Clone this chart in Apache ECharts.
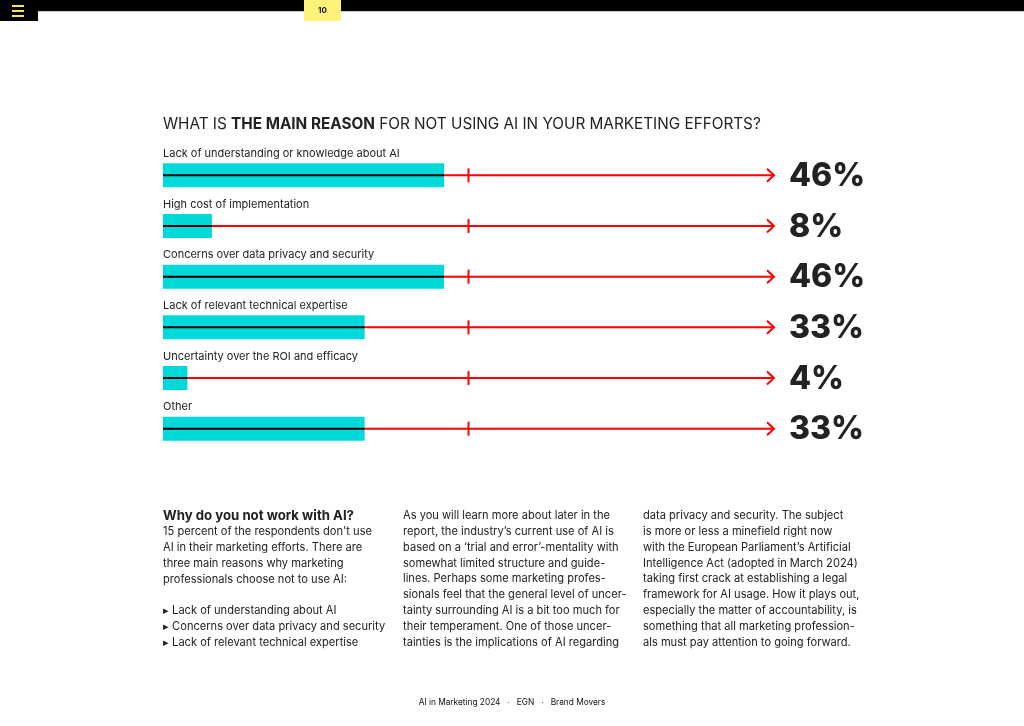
<!DOCTYPE html>
<html>
<head>
<meta charset="utf-8">
<script src="https://cdn.jsdelivr.net/npm/echarts@6/dist/echarts.min.js"></script>
<style>
html,body{margin:0;padding:0;background:#fff;}
#chart{width:1024px;height:726px;}
</style>
</head>
<body>
<div id="chart"></div>
<script>
const categories = [
  'Lack of understanding or knowledge about AI',
  'High cost of implementation',
  'Concerns over data privacy and security',
  'Lack of relevant technical expertise',
  'Uncertainty over the ROI and efficacy',
  'Other'
];
const values = [46, 8, 46, 33, 4, 33];
const axisMax = 100;
const midMark = 50;

const FONT = 'Inter, "Noto Sans", sans-serif';
const CYAN = '#00d9d9';
const RED = '#ff0000';

const col1 = "15 percent of the respondents don't use\nAI in their marketing efforts. There are\nthree main reasons why marketing\nprofessionals choose not to use AI:\n\n\u25B8 Lack of understanding about AI\n\u25B8 Concerns over data privacy and security\n\u25B8 Lack of relevant technical expertise";
const col2 = "As you will learn more about later in the\nreport, the industry\u2019s current use of AI is\nbased on a \u2018trial and error\u2019-mentality with\nsomewhat limited structure and guide-\nlines. Perhaps some marketing profes-\nsionals feel that the general level of uncer-\ntainty surrounding AI is a bit too much for\ntheir temperament. One of those uncer-\ntainties is the implications of AI regarding";
const col3 = "data privacy and security. The subject\nis more or less a minefield right now\nwith the European Parliament\u2019s Artificial\nIntelligence Act (adopted in March 2024)\ntaking first crack at establishing a legal\nframework for AI usage. How it plays out,\nespecially the matter of accountability, is\nsomething that all marketing profession-\nals must pay attention to going forward.";

const chart = echarts.init(document.getElementById('chart'));
chart.setOption({
  animation: false,
  backgroundColor: '#fff',
  textStyle: { fontFamily: FONT },
  grid: { left: 163, right: 250, top: 150, height: 304 },
  xAxis: { type: 'value', min: 0, max: axisMax, show: false },
  yAxis: { type: 'category', data: categories, inverse: true, show: false },
  graphic: [
    { type: 'rect', shape: { x: 0, y: 0, width: 1024, height: 11 }, style: { fill: '#000' } },
    { type: 'rect', shape: { x: 0, y: 11, width: 1024, height: 1 }, style: { fill: '#ccc' } },
    { type: 'rect', shape: { x: 0, y: 0, width: 38, height: 21 }, style: { fill: '#000' } },
    { type: 'rect', shape: { x: 12, y: 5, width: 12, height: 2 }, style: { fill: '#f5e84a' } },
    { type: 'rect', shape: { x: 12, y: 10, width: 12, height: 2 }, style: { fill: '#f5e84a' } },
    { type: 'rect', shape: { x: 12, y: 15, width: 12, height: 2 }, style: { fill: '#f5e84a' } },
    { type: 'rect', shape: { x: 304, y: 0, width: 37, height: 21 }, style: { fill: '#fff27a' } },
    { type: 'text', x: 322.5, y: 11, style: { text: '10', fontFamily: FONT, fontSize: 8, fontWeight: 'bold', fill: '#111', align: 'center', verticalAlign: 'middle' } },
    { type: 'text', x: 163, y: 124, style: {
        text: '{n|WHAT IS }{b|THE MAIN REASON}{n| FOR NOT USING AI IN YOUR MARKETING EFFORTS?}',
        verticalAlign: 'middle',
        rich: {
          n: { fontFamily: FONT, fontSize: 15.3, fill: '#222', fontWeight: 'normal' },
          b: { fontFamily: FONT, fontSize: 15.3, fill: '#222', fontWeight: 'bold' }
        }
    } },
    { type: 'text', x: 163, y: 516, style: { text: 'Why do you not work with AI?', fontFamily: FONT, fontSize: 13.2, fontWeight: 'bold', fill: '#222', verticalAlign: 'middle' } },
    { type: 'text', x: 163, y: 524, style: { text: col1, fontFamily: FONT, fontSize: 11.1, lineHeight: 15.8, fill: '#222', verticalAlign: 'top' } },
    { type: 'text', x: 403, y: 508, style: { text: col2, fontFamily: FONT, fontSize: 11.1, lineHeight: 15.8, fill: '#222', verticalAlign: 'top' } },
    { type: 'text', x: 643, y: 508, style: { text: col3, fontFamily: FONT, fontSize: 11.1, lineHeight: 15.8, fill: '#222', verticalAlign: 'top' } },
    { type: 'text', x: 512, y: 703, style: { text: 'AI in Marketing 2024   \u00B7   EGN   \u00B7   Brand Movers', fontFamily: FONT, fontSize: 8.3, fill: '#111', align: 'center', verticalAlign: 'middle' } }
  ],
  series: [
    {
      type: 'bar',
      data: values,
      barWidth: 24,
      itemStyle: { color: CYAN },
      label: {
        show: true,
        position: [0, -4],
        align: 'left',
        verticalAlign: 'bottom',
        formatter: p => p.name,
        fontFamily: FONT,
        fontSize: 11,
        color: '#222'
      }
    },
    {
      type: 'custom',
      data: values.map((v, i) => [v, i]),
      encode: { x: 0, y: 1 },
      z: 5,
      renderItem: function (params, api) {
        const v = api.value(0);
        const idx = api.value(1);
        const s = api.coord([0, idx]);
        const e = api.coord([v, idx]);
        const f = api.coord([axisMax, idx]);
        const m = api.coord([midMark, idx]);
        const y = s[1];
        return {
          type: 'group',
          children: [
            { type: 'line', shape: { x1: e[0], y1: y, x2: f[0], y2: y }, style: { stroke: RED, lineWidth: 2 } },
            { type: 'line', shape: { x1: m[0], y1: y - 7, x2: m[0], y2: y + 7 }, style: { stroke: RED, lineWidth: 2 } },
            { type: 'polyline', shape: { points: [[f[0] - 7, y - 6.5], [f[0], y], [f[0] - 7, y + 6.5]] }, style: { stroke: RED, lineWidth: 2, fill: null } },
            { type: 'line', shape: { x1: s[0], y1: y, x2: e[0], y2: y }, style: { stroke: '#000', lineWidth: 2 } },
            { type: 'text', x: f[0] + 15, y: y + 1, style: { text: v + '%', fontFamily: FONT, fontSize: 32, fontWeight: 800, fill: '#222', verticalAlign: 'middle' } }
          ]
        };
      }
    }
  ]
});
</script>
</body>
</html>
